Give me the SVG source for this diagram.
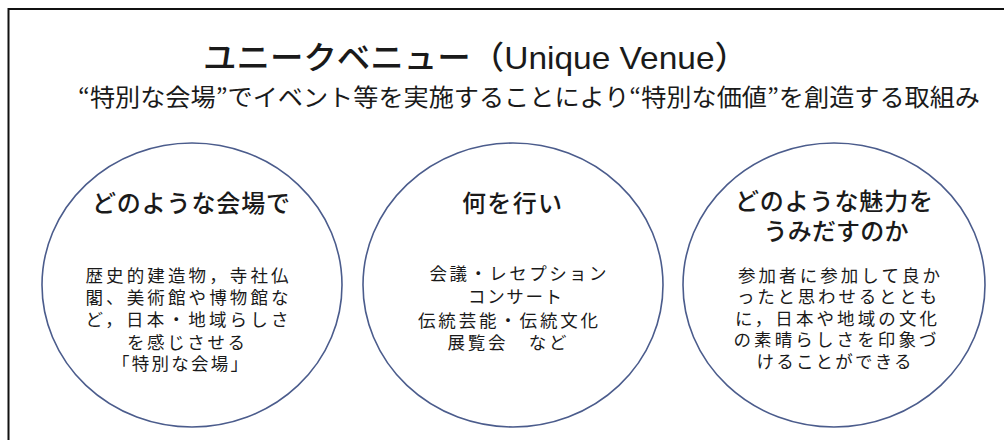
<svg xmlns="http://www.w3.org/2000/svg" width="1004" height="440" viewBox="0 0 1004 440">
  <style>
    .jp { font-family: "Noto Sans CJK JP", "Noto Sans", sans-serif; fill: #1a1a1a; }
    .title { font-size: 32px; font-weight: 500; }
    .sub { font-size: 24px; }
    .head { font-size: 24px; font-weight: 500; text-anchor: middle; }
    .body { font-size: 17.5px; text-anchor: middle; }
    .circle { fill: #ffffff; stroke: #4b5c8c; stroke-width: 1.6; }
  </style>
  <rect x="0" y="0" width="1004" height="440" fill="#ffffff"/>
  <rect x="8.5" y="9" width="1000" height="440" fill="none" stroke="#111111" stroke-width="2"/>
  <g id="header">
    <text class="jp title" x="203" y="69" textLength="545" lengthAdjust="spacingAndGlyphs">ユニークベニュー（<tspan font-family="Liberation Sans Narrow, Liberation Sans, sans-serif">Unique Venue</tspan>）</text>
    <text class="jp sub" x="78" y="106" textLength="902" lengthAdjust="spacingAndGlyphs">“特別な会場”でイベント等を実施することにより“特別な価値”を創造する取組み</text>
  </g>
  <g id="node-venue">
    <ellipse class="circle" cx="192" cy="285" rx="150" ry="142"/>
    <text class="jp head" x="191" y="212" textLength="198" lengthAdjust="spacing">どのような会場で</text>
    <text class="jp body" x="187" y="282" textLength="203" lengthAdjust="spacing">歴史的建造物，寺社仏</text>
    <text class="jp body" x="187" y="304" textLength="203" lengthAdjust="spacing">閣、美術館や博物館な</text>
    <text class="jp body" x="187" y="326" textLength="203" lengthAdjust="spacing">ど，日本・地域らしさ</text>
    <text class="jp body" x="186" y="349" textLength="118" lengthAdjust="spacing">を感じさせる</text>
    <text class="jp body" x="180" y="370" textLength="136" lengthAdjust="spacing">「特別な会場」</text>
  </g>
  <g id="node-activity">
    <ellipse class="circle" cx="513" cy="285" rx="150" ry="142"/>
    <text class="jp head" x="512" y="212" textLength="100" lengthAdjust="spacing">何を行い</text>
    <text class="jp body" x="518" y="280" textLength="177" lengthAdjust="spacing">会議・レセプション</text>
    <text class="jp body" x="515" y="303" textLength="94" lengthAdjust="spacing">コンサート</text>
    <text class="jp body" x="508" y="327" textLength="180" lengthAdjust="spacing">伝統芸能・伝統文化</text>
    <text class="jp body" x="507" y="349" textLength="119" lengthAdjust="spacing">展覧会　など</text>
  </g>
  <g id="node-value">
    <ellipse class="circle" cx="834" cy="285" rx="151" ry="142"/>
    <text class="jp head" x="834" y="210" textLength="198" lengthAdjust="spacing">どのような魅力を</text>
    <text class="jp head" x="836" y="240" textLength="145" lengthAdjust="spacing">うみだすのか</text>
    <text class="jp body" x="839" y="282" textLength="202" lengthAdjust="spacing">参加者に参加して良か</text>
    <text class="jp body" x="837" y="303" textLength="200" lengthAdjust="spacing">ったと思わせるととも</text>
    <text class="jp body" x="836" y="325" textLength="202" lengthAdjust="spacing">に，日本や地域の文化</text>
    <text class="jp body" x="835" y="346" textLength="203" lengthAdjust="spacing">の素晴らしさを印象づ</text>
    <text class="jp body" x="834" y="368" textLength="155" lengthAdjust="spacing">けることができる</text>
  </g>
  <g id="connectors"/>
</svg>
